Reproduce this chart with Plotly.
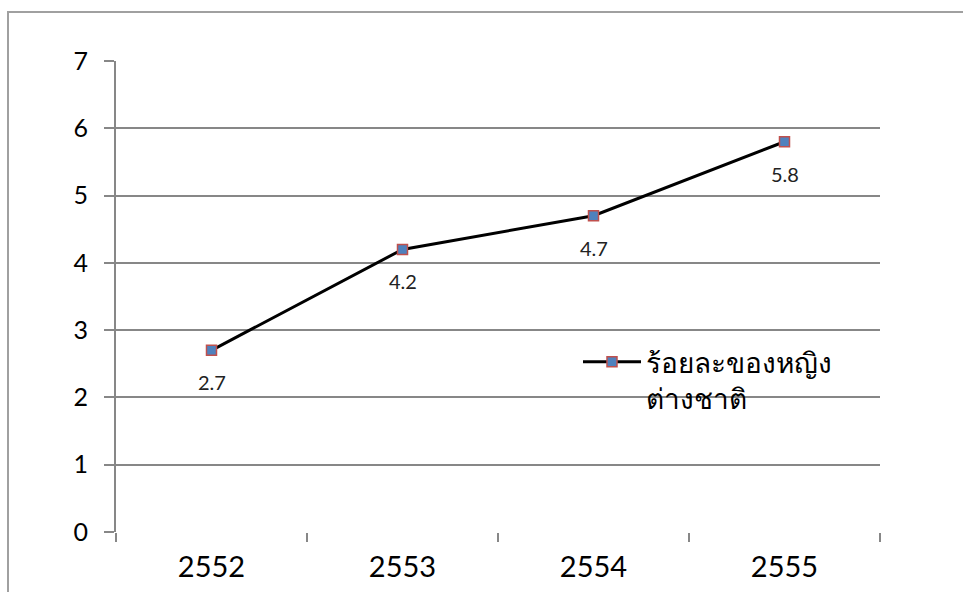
import plotly.graph_objects as go

years = ["2552", "2553", "2554", "2555"]
values = [2.7, 4.2, 4.7, 5.8]
series_name = "ร้อยละของหญิง<br>ต่างชาติ"
y_ticks = [0, 1, 2, 3, 4, 5, 6, 7]

W, H = 963, 592
L, R, T, B = 116, 83, 61, 60
pw, ph = W - L - R, H - T - B
FONT = "Lato, Open Sans, Liberation Sans, Arial"

fig = go.Figure()
fig.add_trace(go.Scatter(
    x=years, y=values, name=series_name, mode="lines+markers",
    line=dict(color="black", width=3),
    marker=dict(symbol="square", size=10, color="#4F81BD",
                line=dict(color="#C0504D", width=1.5)),
    showlegend=True,
))

for i, yv in enumerate(values):
    fig.add_annotation(x=i, y=yv, text=str(yv), showarrow=False,
                       yshift=-32, font=dict(size=20, color="#222", family=FONT))

fig.add_shape(type="rect", xref="paper", yref="paper",
              x0=(8 - L) / pw, x1=(W + 20 - L) / pw,
              y0=-(B + 20) / ph, y1=1 + (T - 12) / ph,
              line=dict(color="#A0A0A0", width=2), layer="below")

fig.update_layout(
    width=W, height=H,
    margin=dict(l=L, r=R, t=T, b=B),
    paper_bgcolor="white", plot_bgcolor="white",
    font=dict(family=FONT, color="black"),
    legend=dict(x=(578 - L) / pw, y=(532 - 337) / ph, xanchor="left", yanchor="top",
                bgcolor="rgba(0,0,0,0)", itemwidth=58, valign="top",
                font=dict(size=28, family="Tahoma, DejaVu Sans, Noto Sans", color="black")),
    xaxis=dict(type="category", tickson="boundaries", ticks="outside", ticklen=9,
               tickwidth=2, tickcolor="#878787", showgrid=False,
               showline=False, zeroline=False, automargin=False,
               tickfont=dict(size=29), ticklabelstandoff=15, range=[-0.5, 3.5]),
    yaxis=dict(range=[0, 7], tickvals=y_ticks, ticks="outside", ticklen=10,
               tickwidth=2, tickcolor="#878787", showgrid=True, gridcolor="#878787",
               gridwidth=2, showline=True, linecolor="#878787", linewidth=2,
               zeroline=False, automargin=False,
               tickfont=dict(size=25), ticklabelstandoff=11),
)

fig.write_html("out.html")
